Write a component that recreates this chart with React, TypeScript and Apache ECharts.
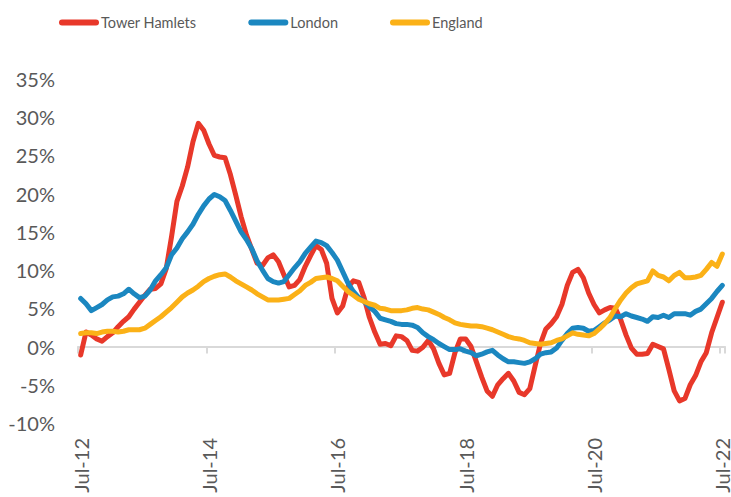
import React, { useEffect, useRef } from "react";
import * as echarts from "echarts";

const MONTH_NAMES = ["Jan", "Feb", "Mar", "Apr", "May", "Jun", "Jul", "Aug", "Sep", "Oct", "Nov", "Dec"];
const START_YEAR = 2012;
const START_MONTH = 6; // Jul
const N_MONTHS = 121;
const categories: string[] = [];
for (let i = 0; i < N_MONTHS; i++) {
  const m = (START_MONTH + i) % 12;
  const y = START_YEAR + Math.floor((START_MONTH + i) / 12);
  categories.push(`${MONTH_NAMES[m]}-${String(y % 100).padStart(2, "0")}`);
}

const towerHamlets = [
  -1.1, 1.9, 1.5, 1.0, 0.7, 1.3, 1.8, 2.6, 3.3, 3.9,
  4.9, 5.8, 6.7, 7.5, 7.6, 8.2, 10.2, 14.4, 19.0, 21.0,
  23.5, 26.8, 29.2, 28.3, 26.5, 25.0, 24.8, 24.7, 22.5, 19.8,
  17.0, 14.6, 12.7, 10.9, 10.6, 11.6, 12.0, 11.1, 9.4, 7.8,
  8.0, 8.8, 10.5, 11.9, 13.2, 12.7, 10.9, 6.3, 4.4, 5.3,
  7.8, 8.6, 8.4, 6.4, 3.8, 1.9, 0.3, 0.4, 0.1, 1.4,
  1.3, 0.8, -0.5, -0.6, -0.1, 0.8, -0.3, -2.2, -3.7, -3.5,
  -0.8, 1.0, 1.0, 0.0, -2.0, -4.0, -5.8, -6.5, -5.0, -4.2,
  -3.5, -4.5, -6.0, -6.3, -5.5, -2.5, 0.4, 2.3, 3.0, 3.9,
  5.5, 8.0, 9.7, 10.1, 9.0, 7.0, 5.5, 4.4, 4.8, 5.1,
  5.0, 3.5, 1.5, -0.2, -1.0, -1.0, -0.9, 0.3, 0.0, -0.3,
  -3.0, -5.8, -7.1, -6.8, -5.0, -3.8, -2.0, -0.8, 1.8, 3.8,
  5.8,
];

const london = [
  6.3, 5.6, 4.7, 5.1, 5.5, 6.1, 6.5, 6.6, 6.9, 7.5,
  6.9, 6.4, 6.6, 7.4, 8.6, 9.4, 10.3, 12.0, 12.9, 14.1,
  15.0, 16.0, 17.3, 18.4, 19.3, 19.9, 19.6, 19.1, 17.8, 16.4,
  15.0, 14.0, 12.8, 11.2, 10.0, 8.9, 8.5, 8.3, 8.5, 9.4,
  10.3, 11.1, 12.2, 13.0, 13.8, 13.6, 13.2, 12.3, 11.3, 9.8,
  8.3, 7.2, 6.4, 5.9, 5.2, 4.6, 3.7, 3.5, 3.3, 3.0,
  2.9, 2.9, 2.8, 2.5, 1.8, 1.3, 0.9, 0.4, 0.0, -0.4,
  -0.4, -0.3, -0.6, -0.8, -1.2, -1.0, -0.7, -0.5, -1.1, -1.6,
  -2.0, -2.0, -2.1, -2.2, -2.0, -1.6, -1.0, -0.8, -0.7, -0.2,
  0.8, 1.7, 2.4, 2.5, 2.4, 2.0, 2.1, 2.6, 3.1, 3.5,
  4.0, 3.9, 4.3, 4.0, 3.8, 3.6, 3.3, 3.9, 3.8, 4.1,
  3.8, 4.3, 4.3, 4.3, 4.1, 4.6, 4.9, 5.6, 6.3, 7.2,
  8.0,
];

const england = [
  1.7, 1.8, 1.8, 1.7, 1.9, 2.0, 2.0, 1.9, 2.0, 2.2,
  2.2, 2.2, 2.4, 2.9, 3.4, 3.9, 4.5, 5.1, 5.8, 6.5,
  7.0, 7.4, 7.9, 8.5, 8.9, 9.2, 9.4, 9.5, 9.1, 8.6,
  8.2, 7.8, 7.4, 6.9, 6.5, 6.1, 6.1, 6.1, 6.2, 6.3,
  6.8, 7.3, 8.0, 8.4, 8.9, 9.0, 9.1, 8.9, 8.6, 7.9,
  7.2, 6.7, 6.2, 5.9, 5.6, 5.4, 5.0, 4.9, 4.7, 4.7,
  4.7, 4.8, 5.0, 5.1, 4.9, 4.8, 4.5, 4.2, 3.8, 3.5,
  3.1, 2.9, 2.8, 2.7, 2.7, 2.6, 2.4, 2.2, 1.9, 1.6,
  1.3, 1.1, 1.0, 0.8, 0.5, 0.4, 0.3, 0.4, 0.5, 0.8,
  1.0, 1.4, 1.8, 1.6, 1.5, 1.4, 1.7, 2.3, 3.0, 3.8,
  5.0, 6.1, 7.0, 7.7, 8.2, 8.4, 8.6, 9.9, 9.3, 9.1,
  8.6, 9.3, 9.7, 9.0, 9.0, 9.1, 9.3, 10.1, 11.0, 10.5,
  12.1,
];

const SERIES_NAMES = ["Tower Hamlets", "London", "England"];
const COLORS = ["#E8382A", "#1B87C0", "#FBB117"];
const Y_MIN = -10;
const Y_MAX = 35;
const Y_STEP = 5;
const LABEL_EVERY = 24;

export default function App() {
  const ref = useRef<HTMLDivElement>(null);
  useEffect(() => {
    if (!ref.current) return;
    const chart = echarts.init(ref.current, undefined, { renderer: "svg" });
    const font = "Lato, 'Open Sans', sans-serif";
    const pill = "path://M3,0 L37,0 A3,3 0 0 1 37,6 L3,6 A3,3 0 0 1 3,0 Z";
    const dataSets = [towerHamlets, london, england];
    chart.setOption({
      animation: false,
      backgroundColor: "#ffffff",
      legend: {
        top: 10,
        left: 54,
        itemWidth: 40,
        itemHeight: 6,
        itemGap: 52,
        textStyle: { color: "#595959", fontSize: 14.5, fontFamily: font, padding: [0, 0, 0, -3] },
        data: SERIES_NAMES.map((n, i) => ({ name: n, icon: pill, itemStyle: { color: COLORS[i] } })),
      },
      grid: { left: 78, right: 6, top: 79, bottom: 74, containLabel: false, outerBoundsMode: "none" },
      xAxis: [
        {
          type: "category",
          data: categories,
          boundaryGap: true,
          position: "bottom",
          axisLine: { onZero: true, lineStyle: { color: "#d9d9d9", width: 2 } },
          axisTick: {
            show: true,
            interval: (i: number) => i % LABEL_EVERY === 0,
            length: 7,
            lineStyle: { color: "#d9d9d9", width: 2 },
          },
          axisLabel: { show: false },
          splitLine: { show: false },
        },
        {
          type: "category",
          data: categories,
          boundaryGap: true,
          position: "bottom",
          offset: 0,
          axisLine: { show: false, onZero: false },
          axisTick: { show: false },
          axisLabel: {
            show: true,
            interval: (i: number) => i % LABEL_EVERY === 0,
            rotate: 90,
            margin: 15,
            color: "#595959",
            fontSize: 20,
            fontFamily: font,
          },
          splitLine: { show: false },
        },
      ],
      yAxis: {
        type: "value",
        min: Y_MIN,
        max: Y_MAX,
        interval: Y_STEP,
        axisLine: { show: false },
        axisTick: { show: false },
        splitLine: { show: false },
        axisLabel: {
          formatter: "{value}%",
          color: "#595959",
          fontSize: 20,
          fontFamily: font,
          margin: 23,
        },
      },
      series: SERIES_NAMES.map((n, i) => ({
        name: n,
        type: "line",
        xAxisIndex: 0,
        data: dataSets[i],
        symbol: "none",
        smooth: false,
        lineStyle: { color: COLORS[i], width: 5, cap: "round", join: "round" },
        itemStyle: { color: COLORS[i] },
      })),
    });
    return () => chart.dispose();
  }, []);
  return (
    <div
      ref={ref}
      style={{ position: "fixed", left: 0, top: 0, width: 731, height: 497, background: "#fff" }}
    />
  );
}
